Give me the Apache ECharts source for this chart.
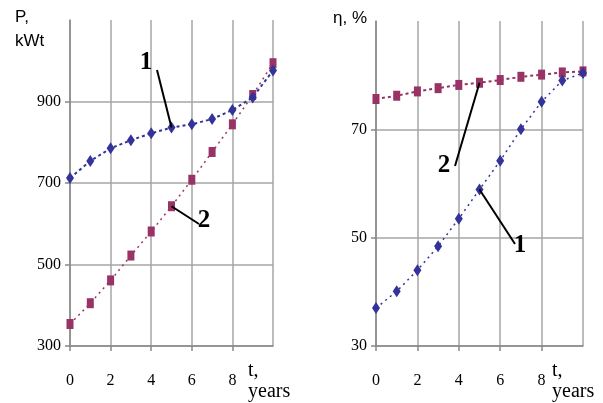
<!DOCTYPE html>
<html>
<head>
<meta charset="utf-8">
<script src="https://cdn.jsdelivr.net/npm/echarts@6/dist/echarts.min.js"></script>
<style>html,body{margin:0;padding:0;background:#fff}#c{width:603px;height:403px}</style>
</head>
<body>
<div id="c"></div>
<script>
// ---- data ----
var years = [0, 1, 2, 3, 4, 5, 6, 7, 8, 9, 10];
var power1 = [712, 754, 785, 805, 822, 836, 844, 857, 879, 910, 976];
var power2 = [354, 405, 461, 522, 581, 643, 708, 776, 844, 916, 994];
var eff1 = [37.0, 40.1, 44.0, 48.4, 53.5, 58.9, 64.2, 70.0, 75.1, 79.0, 80.4];
var eff2 = [75.6, 76.2, 77.0, 77.6, 78.2, 78.6, 79.1, 79.7, 80.1, 80.5, 80.7];
var xTicks = [0, 10, 2];        // min, max, interval
var pTicks = [300, 1100, 200];
var eTicks = [30, 90, 20];

var blue = '#333399', maroon = '#993366';
var gridCol = '#a6a6a6', axisCol = '#888888';
var serif = 'Liberation Serif', sans = 'Liberation Sans';

function pairs(xs, ys) { return xs.map(function (x, i) { return [x, ys[i]]; }); }

function xAxisCfg(gi) {
  return {
    type: 'value', gridIndex: gi, min: xTicks[0], max: xTicks[1], interval: xTicks[2],
    axisLine: { show: true, lineStyle: { color: axisCol, width: 1.5 } },
    axisTick: { show: true, length: 5, lineStyle: { color: axisCol, width: 1.5 } },
    axisLabel: { showMaxLabel: false, margin: 27, color: '#000', fontFamily: serif, fontSize: 16 },
    splitLine: { show: true, lineStyle: { color: gridCol, width: 1.5 } }
  };
}
function yAxisCfg(gi, t, n) {
  var cols = [];
  for (var i = 0; i < n; i++) cols.push(i === n - 1 ? 'rgba(0,0,0,0)' : gridCol);
  return {
    type: 'value', gridIndex: gi, min: t[0], max: t[1], interval: t[2],
    axisLine: { show: true, lineStyle: { color: axisCol, width: 1.5 } },
    axisTick: { show: true, length: 5, inside: false, lineStyle: { color: axisCol, width: 1.5 } },
    axisLabel: { showMaxLabel: false, margin: 9, color: '#000', fontFamily: serif, fontSize: 16 },
    splitLine: { show: true, lineStyle: { color: cols, width: 1.5 } }
  };
}
function seriesCfg(gi, data, color, sym, size, dash, w) {
  return {
    type: 'line', xAxisIndex: gi, yAxisIndex: gi, data: data,
    symbol: sym, symbolSize: size, showSymbol: true, animation: false,
    itemStyle: { color: color },
    lineStyle: { color: color, width: w, type: dash },
    z: sym === 'rect' ? 3 : 4
  };
}

var chart = echarts.init(document.getElementById('c'), null, { renderer: 'canvas' });
chart.setOption({
  backgroundColor: '#fff',
  animation: false,
  grid: [
    { left: 70, right: 330, top: 20, bottom: 57 },
    { left: 376, right: 20, top: 21, bottom: 57 }
  ],
  xAxis: [xAxisCfg(0), xAxisCfg(1)],
  yAxis: [yAxisCfg(0, pTicks, 5), yAxisCfg(1, eTicks, 4)],
  series: [
    seriesCfg(0, pairs(years, power1), blue, 'diamond', [8, 12], [3, 3], 2),
    seriesCfg(0, pairs(years, power2), maroon, 'rect', [7, 10], [2, 4], 1.5),
    seriesCfg(1, pairs(years, eff1), blue, 'diamond', [8, 12], [2, 4], 1.5),
    seriesCfg(1, pairs(years, eff2), maroon, 'rect', [7, 10], [3, 3], 2)
  ]
});

function px(gi, x, y) { return chart.convertToPixel({ gridIndex: gi }, [x, y]); }
var a1 = px(0, years[5], power1[5]);
var a2 = px(0, years[5], power2[5]);
var b2 = px(1, years[5], eff2[5]);
var b1 = px(1, years[5], eff1[5]);

function line(x1, y1, x2, y2) {
  return { type: 'line', shape: { x1: x1, y1: y1, x2: x2, y2: y2 }, style: { stroke: '#000', lineWidth: 2 }, z: 10 };
}
function num(t, x, y) {
  return { type: 'text', x: x, y: y, z: 10,
    style: { text: t, fill: '#000', font: 'bold 25px ' + serif, align: 'center', verticalAlign: 'middle' } };
}
function txt(t, x, y, font, lh) {
  return { type: 'text', x: x, y: y, z: 10,
    style: { text: t, fill: '#000', font: font, lineHeight: lh, align: 'left', verticalAlign: 'top' } };
}

chart.setOption({
  graphic: [
    txt('P,\nkWt', 15, 5, '17px ' + sans, 24),
    txt('η, %', 333, 8, '17px ' + sans, 20),
    txt('t,\nyears', 248, 360, '20px ' + serif, 21),
    txt('t,\nyears', 552, 360, '20px ' + serif, 21),
    line(157, 70, a1[0], a1[1]),
    num('1', 146, 63),
    line(a2[0], a2[1], 199, 224),
    num('2', 204, 221),
    line(455, 166, b2[0], b2[1]),
    num('2', 444, 166),
    line(b1[0], b1[1], 515, 244),
    num('1', 520, 246)
  ]
});
</script>
</body>
</html>
